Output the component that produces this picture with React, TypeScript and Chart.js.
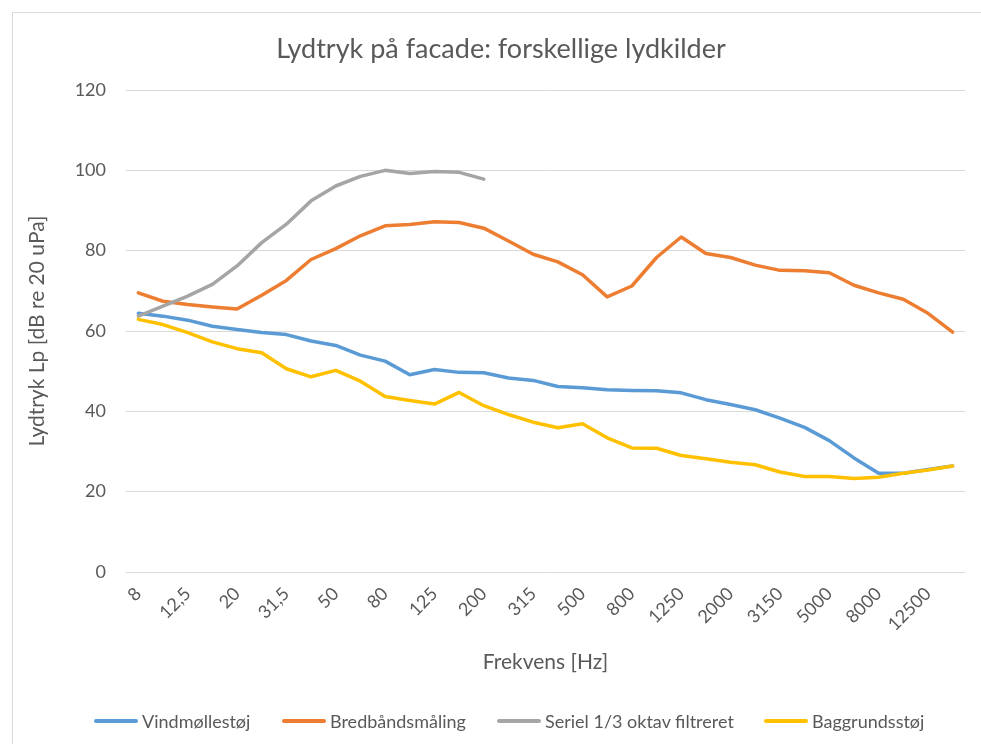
import React, { useEffect, useRef } from "react";
import { Chart, registerables } from "chart.js";

Chart.register(...registerables);

const categories: string[] = [
  "8", "10", "12,5", "16", "20", "25", "31,5", "40", "50", "63",
  "80", "100", "125", "160", "200", "250", "315", "400", "500", "630",
  "800", "1000", "1250", "1600", "2000", "2500", "3150", "4000", "5000", "6300",
  "8000", "10000", "12500", "16000",
];

const vindmoelle: number[] = [
  64.4, 63.7, 62.7, 61.2, 60.4, 59.6, 59.1, 57.5, 56.4, 54.0,
  52.5, 49.1, 50.4, 49.7, 49.6, 48.3, 47.7, 46.2, 45.9, 45.4,
  45.2, 45.1, 44.6, 42.9, 41.7, 40.4, 38.3, 36.0, 32.7, 28.4,
  24.6, 24.6, 25.5, 26.4,
];

const bredbaand: number[] = [
  69.5, 67.4, 66.6, 66.0, 65.5, 68.9, 72.6, 77.8, 80.5, 83.7,
  86.2, 86.5, 87.2, 87.0, 85.6, 82.4, 79.1, 77.2, 74.0, 68.5,
  71.2, 78.3, 83.4, 79.3, 78.3, 76.4, 75.1, 75.0, 74.5, 71.4,
  69.5, 67.9, 64.4, 59.7,
];

const seriel: (number | null)[] = [
  63.7, 66.2, 68.7, 71.6, 76.2, 82.0, 86.6, 92.4, 96.1, 98.5,
  100.0, 99.2, 99.7, 99.5, 97.8, null, null, null, null, null,
  null, null, null, null, null, null, null, null, null, null,
  null, null, null, null,
];

const baggrund: number[] = [
  62.9, 61.6, 59.6, 57.3, 55.6, 54.6, 50.6, 48.6, 50.2, 47.5,
  43.7, 42.7, 41.8, 44.7, 41.4, 39.2, 37.3, 35.9, 36.9, 33.4,
  30.9, 30.8, 29.0, 28.2, 27.3, 26.7, 24.9, 23.8, 23.8, 23.3,
  23.6, 24.6, 25.4, 26.4,
];

const chartTitle = "Lydtryk på facade: forskellige lydkilder";
const seriesNames = ["Vindmøllestøj", "Bredbåndsmåling", "Seriel 1/3 oktav filtreret", "Baggrundsstøj"];
const seriesColors = ["#5B9BD5", "#ED7D31", "#A5A5A5", "#FFC000"];
const yTicks = [0, 20, 40, 60, 80, 100, 120];

const FONT = "Lato, 'Open Sans', sans-serif";
const TEXT = "#595959";
const legendLefts = [94, 282, 497, 764];

export default function App() {
  const ref = useRef<HTMLCanvasElement | null>(null);

  useEffect(() => {
    document.body.style.margin = "0";
    const canvas = ref.current;
    if (!canvas) return;
    const values = [vindmoelle, bredbaand, seriel, baggrund];
    const orders = [3, 2, 1, 0];
    const chart = new Chart(canvas, {
      type: "line",
      data: {
        labels: categories,
        datasets: values.map((v, i) => ({
          label: seriesNames[i],
          data: v,
          borderColor: seriesColors[i],
          backgroundColor: seriesColors[i],
          borderWidth: 3.5,
          borderCapStyle: "round" as const,
          borderJoinStyle: "round" as const,
          pointRadius: 0,
          pointHoverRadius: 0,
          tension: 0,
          fill: false,
          spanGaps: false,
          order: orders[i],
        })),
      },
      options: {
        responsive: false,
        animation: false,
        devicePixelRatio: 1,
        layout: { padding: { left: 0, right: 16, top: 90, bottom: 69.4 } },
        plugins: {
          legend: { display: false },
          tooltip: { enabled: false },
          title: { display: false },
        },
        scales: {
          x: {
            type: "category",
            offset: true,
            grid: { display: false, drawTicks: false },
            border: { display: false },
            ticks: {
              autoSkip: false,
              maxRotation: 45,
              minRotation: 45,
              padding: 11,
              color: TEXT,
              font: { family: FONT, size: 18 },
              callback: (_v: any, index: number) => (index % 2 === 0 ? categories[index] : ""),
            },
            title: {
              display: true,
              text: "Frekvens [Hz]",
              color: TEXT,
              font: { family: FONT, size: 21 },
              padding: { top: 0, bottom: 0 },
            },
            afterFit: (s: any) => {
              s.height = 102.6;
            },
          },
          y: {
            min: 0,
            max: 120,
            afterBuildTicks: (s: any) => {
              s.ticks = yTicks.map((v) => ({ value: v }));
            },
            grid: { color: "#D9D9D9", lineWidth: 1, drawTicks: false },
            border: { display: false },
            ticks: {
              padding: 20,
              color: TEXT,
              font: { family: FONT, size: 18 },
            },
            title: {
              display: true,
              text: "Lydtryk Lp [dB re 20 uPa]",
              color: TEXT,
              font: { family: FONT, size: 21 },
              padding: { top: 24.4, bottom: 0 },
            },
            afterFit: (s: any) => {
              s.width = 126;
            },
          },
        },
      },
    });
    return () => chart.destroy();
  }, []);

  return (
    <div style={{ position: "relative", width: 981, height: 744, overflow: "hidden", background: "#fff" }}>
      <canvas ref={ref} width={981} height={744} style={{ display: "block", width: 981, height: 744 }} />
      <div
        style={{
          position: "absolute",
          left: 12,
          top: 12,
          width: 990,
          height: 760,
          border: "1px solid #D9D9D9",
          pointerEvents: "none",
        }}
      />
      <div
        style={{
          position: "absolute",
          left: 201,
          width: 600,
          top: 31,
          height: 34,
          lineHeight: "34px",
          textAlign: "center",
          fontFamily: FONT,
          fontSize: 27,
          color: TEXT,
          whiteSpace: "nowrap",
        }}
      >
        {chartTitle}
      </div>
      {seriesNames.map((n, i) => (
        <div
          key={n}
          style={{
            position: "absolute",
            left: legendLefts[i],
            top: 708,
            height: 26,
            display: "flex",
            alignItems: "center",
            fontFamily: FONT,
            fontSize: 18,
            color: TEXT,
            whiteSpace: "nowrap",
          }}
        >
          <span
            style={{
              display: "inline-block",
              width: 44,
              height: 4,
              borderRadius: 2,
              background: seriesColors[i],
              marginRight: 4,
            }}
          />
          <span>{n}</span>
        </div>
      ))}
    </div>
  );
}
